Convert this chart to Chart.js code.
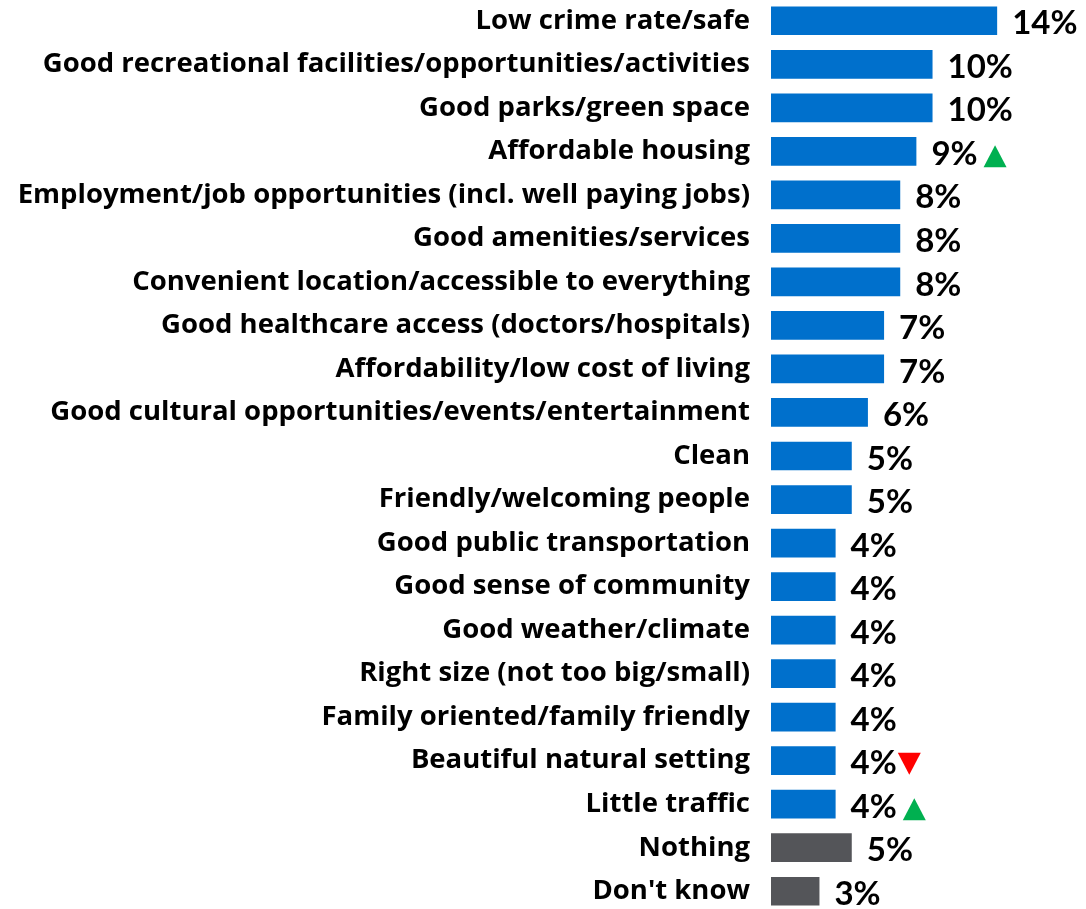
<!DOCTYPE html>
<html>
<head>
<meta charset="utf-8">
<script src="https://cdn.jsdelivr.net/npm/chart.js@4.4.1/dist/chart.umd.min.js"></script>
<style>
  html, body { margin: 0; padding: 0; background: #fff; overflow: hidden; }
  #wrap { position: absolute; left: 0; top: -1px; width: 1086px; height: 914px; }
</style>
</head>
<body>
<div id="wrap"><canvas id="chart"></canvas></div>
<script>
// chart data
const categories = [
  'Low crime rate/safe',
  'Good recreational facilities/opportunities/activities',
  'Good parks/green space',
  'Affordable housing',
  'Employment/job opportunities (incl. well paying jobs)',
  'Good amenities/services',
  'Convenient location/accessible to everything',
  'Good healthcare access (doctors/hospitals)',
  'Affordability/low cost of living',
  'Good cultural opportunities/events/entertainment',
  'Clean',
  'Friendly/welcoming people',
  'Good public transportation',
  'Good sense of community',
  'Good weather/climate',
  'Right size (not too big/small)',
  'Family oriented/family friendly',
  'Beautiful natural setting',
  'Little traffic',
  'Nothing',
  "Don't know"
];
const values = [14, 10, 10, 9, 8, 8, 8, 7, 7, 6, 5, 5, 4, 4, 4, 4, 4, 4, 4, 5, 3];
// change markers vs. previous wave: up / down / none
const changes = ['', '', '', 'up', '', '', '', '', '', '', '', '', '', '', '', '', '', 'down', 'up', '', ''];
// last two rows are non-answers, shown in grey
const barColors = values.map((v, i) => i >= 19 ? '#545559' : '#0070CC');

const valueLabels = {
  id: 'valueLabels',
  afterDatasetsDraw(chart) {
    const ctx = chart.ctx;
    const meta = chart.getDatasetMeta(0);
    ctx.save();
    ctx.font = 'bold 33px Lato';
    ctx.fillStyle = '#000';
    ctx.textBaseline = 'middle';
    ctx.textAlign = 'left';
    meta.data.forEach((bar, i) => {
      const txt = values[i] + '%';
      const x = bar.x + 15;
      const y = bar.y + 3;
      ctx.fillText(txt, x, y);
      const w = ctx.measureText(txt).width;
      // trend triangle
      if (changes[i]) {
        const tx = x + w + (changes[i] === 'up' ? 6 : 1);
        ctx.beginPath();
        if (changes[i] === 'up') {
          ctx.fillStyle = '#00B050';
          ctx.moveTo(tx, y + 13);
          ctx.lineTo(tx + 23, y + 13);
          ctx.lineTo(tx + 11.5, y - 9);
        } else {
          ctx.fillStyle = '#FF0000';
          ctx.moveTo(tx, y - 11);
          ctx.lineTo(tx + 23, y - 11);
          ctx.lineTo(tx + 11.5, y + 11);
        }
        ctx.closePath();
        ctx.fill();
        ctx.fillStyle = '#000';
      }
    });
    ctx.restore();
  }
};

new Chart(document.getElementById('chart'), {
  type: 'bar',
  data: {
    labels: categories,
    datasets: [{
      data: values,
      backgroundColor: barColors,
      borderWidth: 0,
      categoryPercentage: 1,
      barPercentage: 0.66
    }]
  },
  options: {
    indexAxis: 'y',
    responsive: true,
    maintainAspectRatio: false,
    animation: false,
    layout: { padding: 0 },
    plugins: { legend: { display: false }, tooltip: { enabled: false } },
    scales: {
      x: { display: false, min: 0, max: 19.5 },
      y: {
        afterFit(scale) {
          scale.width = 771;
          scale.paddingTop = 0;
          scale.paddingBottom = 0;
        },
        grid: { display: false, drawTicks: false },
        border: { display: false },
        ticks: {
          padding: 21,
          color: '#000',
          font: { family: 'Open Sans', weight: 'bold', size: 27.5 }
        }
      }
    }
  },
  plugins: [valueLabels]
});
</script>
</body>
</html>
